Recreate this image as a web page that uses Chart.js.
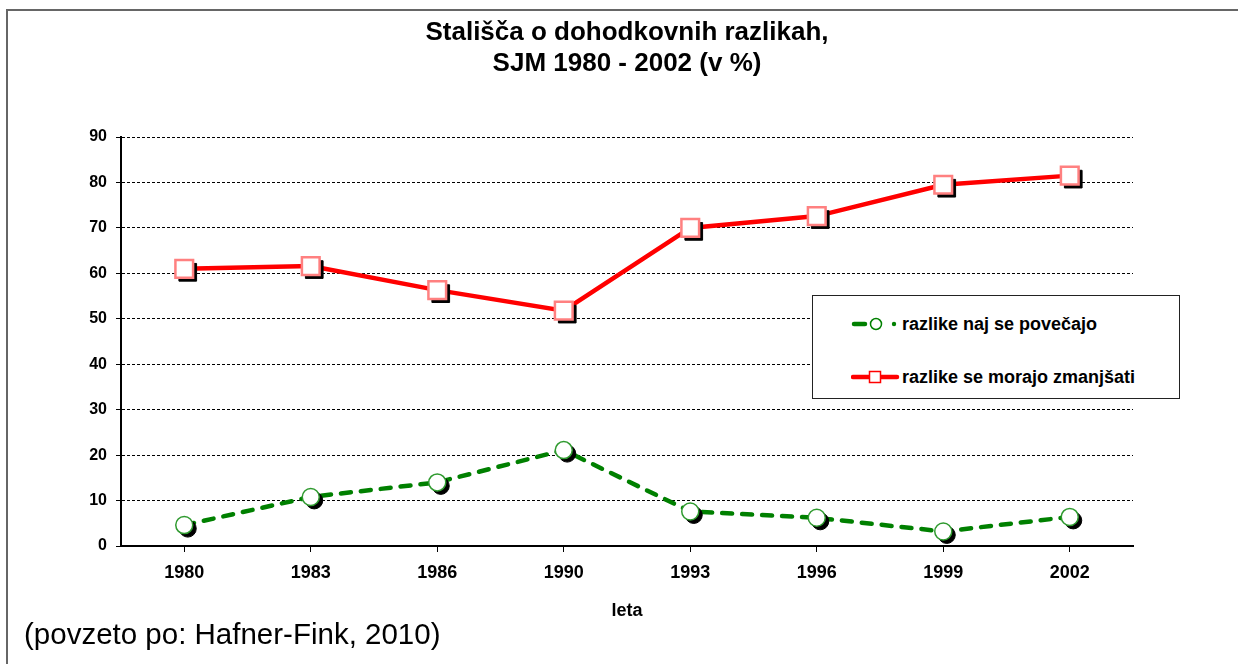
<!DOCTYPE html>
<html>
<head>
<meta charset="utf-8">
<script src="https://cdn.jsdelivr.net/npm/chart.js@4.4.1/dist/chart.umd.min.js"></script>
<style>
  body { margin: 0; background: #fff; }
  #wrap { position: relative; width: 1238px; height: 664px; overflow: hidden; font-family: "Liberation Sans", Arial, sans-serif; }
  #frame { position: absolute; left: 6px; top: 9px; width: 1300px; height: 700px; border-top: 2px solid #666; border-left: 2px solid #666; }
  #chart { position: absolute; left: 0; top: 0; }
  #legend { position: absolute; left: 812px; top: 295px; width: 366px; height: 102px; border: 1px solid #222; background: #fff; }
  .item { position: absolute; left: 38px; height: 20px; }
  .item svg { position: absolute; left: 0; top: 0; }
  .item span { position: absolute; left: 51px; top: 0; font-weight: bold; font-size: 18px; line-height: 18px; white-space: nowrap; color: #000; }
  #source { position: absolute; left: 24px; top: 619px; font-size: 29.5px; line-height: 29.5px; color: #000; white-space: nowrap; }
</style>
</head>
<body>
<div id="wrap">
  <div id="frame"></div>
  <canvas id="chart" width="1238" height="664"></canvas>
  <div id="legend"></div>
  <div id="source">(povzeto po: Hafner-Fink, 2010)</div>
</div>
<script>
// data
var years = ["1980", "1983", "1986", "1990", "1993", "1996", "1999", "2002"];
var povecajo = [4.6, 10.8, 14.0, 21.1, 7.6, 6.2, 3.2, 6.4];   // razlike naj se povečajo
var zmanjsati = [61.0, 61.6, 56.3, 51.8, 70.0, 72.6, 79.5, 81.5]; // razlike se morajo zmanjšati
var seriesNames = ["razlike naj se povečajo", "razlike se morajo zmanjšati"];
var chartTitle = ["Stališča o dohodkovnih razlikah,", "SJM 1980 - 2002 (v %)"];
var xTitle = "leta";

var FONT = "'Liberation Sans', Arial, sans-serif";
var GREEN = "#008000";
var RED = "#ff0000";

// shadow datasets are the same points, drawn a few px down-right in black
var shiftShadow = {
  id: "shiftShadow",
  beforeDatasetDraw: function (chart, args) {
    var ds = chart.data.datasets[args.index];
    chart.ctx.save();
    if (ds.isShadow) {
      chart.ctx.translate(3.5, 3.5);
    }
  },
  afterDatasetDraw: function (chart) {
    chart.ctx.restore();
  },
};

function markers(name, values, style, radius, border, borderWidth, order) {
  return {
    label: name,
    data: values,
    showLine: false,
    pointStyle: style,
    pointRadius: radius,
    pointBackgroundColor: "#fff",
    pointBorderColor: border,
    pointBorderWidth: borderWidth,
    order: order,
  };
}

function shadow(values, style, radius, order) {
  return {
    label: "",
    data: values,
    isShadow: true,
    showLine: false,
    pointStyle: style,
    pointRadius: radius,
    pointBackgroundColor: "#000",
    pointBorderColor: "#000",
    pointBorderWidth: 1,
    order: order,
  };
}

var chart = new Chart(document.getElementById("chart"), {
  type: "line",
  data: {
    labels: years,
    datasets: [
      markers(seriesNames[1], zmanjsati, "rect", 12.5, "#ff8080", 2.5, 0),
      shadow(zmanjsati, "rect", 12.5, 1),
      markers(seriesNames[0], povecajo, "circle", 8.5, "#2f9a2f", 1.5, 2),
      shadow(povecajo, "circle", 8.5, 3),
      {
        label: seriesNames[1],
        data: zmanjsati,
        borderColor: RED,
        borderWidth: 4.5,
        pointRadius: 0,
        tension: 0,
        order: 4,
      },
      {
        label: seriesNames[0],
        data: povecajo,
        borderColor: GREEN,
        borderWidth: 4.5,
        borderDash: [10, 10],
        borderCapStyle: "round",
        pointRadius: 0,
        tension: 0,
        order: 5,
      },
    ],
  },
  options: {
    responsive: false,
    animation: false,
    events: [],
    layout: { padding: { left: 0, right: 105, top: 0, bottom: 0 } },
    plugins: {
      legend: { display: false },
      tooltip: { enabled: false },
      title: {
        display: true,
        fullSize: false,
        text: chartTitle,
        color: "#000",
        font: { family: FONT, size: 26, weight: "bold", lineHeight: 1.2 },
        padding: { top: 17.4, bottom: 57.2 },
      },
    },
    scales: {
      x: {
        offset: true,
        grid: {
          offset: false,
          drawOnChartArea: false,
          drawTicks: true,
          tickLength: 6,
          tickColor: "#000",
          tickWidth: 1,
        },
        border: { display: true, color: "#000", width: 2 },
        ticks: {
          color: "#000",
          padding: 10,
          font: { family: FONT, size: 18, weight: "bold" },
          maxRotation: 0,
        },
        title: {
          display: true,
          text: xTitle,
          color: "#000",
          font: { family: FONT, size: 18, weight: "bold", lineHeight: 1.2 },
          padding: { top: 42, bottom: 42 },
        },
        afterFit: function (scale) {
          scale.height = 118;
        },
      },
      y: {
        min: 0,
        max: 90,
        grid: {
          color: function (c) {
            return c.tick && c.tick.value === 0 ? "rgba(0,0,0,0)" : "#000";
          },
          lineWidth: 1,
          tickLength: 5,
          tickColor: "#000",
          tickWidth: 1,
          tickBorderDash: [],
        },
        border: { display: true, color: "#000", width: 2, dash: [3, 2] },
        ticks: {
          stepSize: 10,
          color: "#000",
          padding: 9,
          font: { family: FONT, size: 16, weight: "bold" },
        },
        afterFit: function (scale) {
          scale.width = 121;
        },
      },
    },
  },
  plugins: [shiftShadow],
});

// legend box, built from the series names
var samples = [
  '<svg width="50" height="20"><line x1="3" y1="9" x2="14" y2="9" stroke="' + GREEN + '" stroke-width="4.5" stroke-linecap="round"/>' +
    '<circle cx="25" cy="9" r="5.5" fill="#fff" stroke="' + GREEN + '" stroke-width="1.5"/>' +
    '<circle cx="43" cy="9" r="2.2" fill="' + GREEN + '"/></svg>',
  '<svg width="50" height="20"><line x1="2" y1="9" x2="46" y2="9" stroke="' + RED + '" stroke-width="4.5" stroke-linecap="round"/>' +
    '<rect x="18.5" y="3.5" width="11" height="11" fill="#fff" stroke="' + RED + '" stroke-width="1.5"/></svg>',
];
var tops = [19, 72];
var legend = document.getElementById("legend");
for (var i = 0; i < seriesNames.length; i++) {
  var item = document.createElement("div");
  item.className = "item";
  item.style.top = tops[i] + "px";
  item.innerHTML = samples[i] + "<span></span>";
  item.querySelector("span").textContent = seriesNames[i];
  legend.appendChild(item);
}
</script>
</body>
</html>
